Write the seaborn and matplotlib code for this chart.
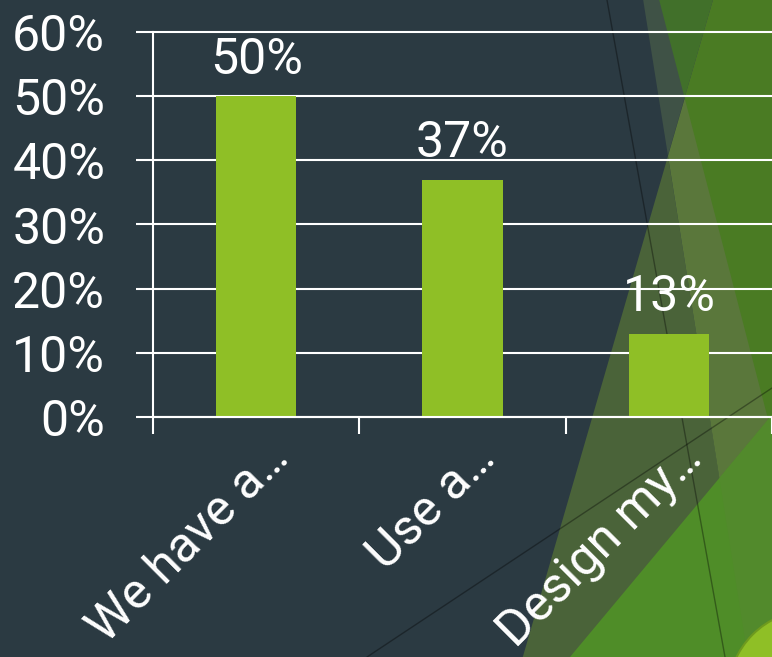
import matplotlib
matplotlib.use("Agg")
import matplotlib.pyplot as plt
import matplotlib.patches as mpatches
from matplotlib.transforms import ScaledTranslation
from matplotlib.ticker import PercentFormatter, FixedLocator
import seaborn as sns
import pandas as pd

# Survey answers and their shares
categories = ["We have a…", "Use a…", "Design my…"]
shares = [0.50, 0.37, 0.13]
y_ticks = [0.0, 0.1, 0.2, 0.3, 0.4, 0.5, 0.6]

BG = "#2B3A42"
BAR = "#8FBF26"
W, H = 772, 657

sns.set_style("white", {"axes.facecolor": "none", "figure.facecolor": BG})
plt.rcParams["font.family"] = ["Roboto", "DejaVu Sans"]

fig = plt.figure(figsize=(W / 100, H / 100), dpi=100)
fig.patch.set_facecolor(BG)

# ---- decorative background, in pixel coordinates ----
deco = fig.add_axes([0, 0, 1, 1], zorder=0)
deco.set_xlim(0, W)
deco.set_ylim(H, 0)
deco.axis("off")
deco.set_facecolor(BG)


def line_x(x0, slope, y):
    return x0 + slope * y


def half_plane(x0, slope, right=True):
    ya, yb = -20, H + 20
    xa, xb = line_x(x0, slope, ya), line_x(x0, slope, yb)
    if right:
        pts = [(xa, ya), (W + 200, ya), (W + 200, yb), (xb, yb)]
    else:
        pts = [(-200, ya), (xa, ya), (xb, yb), (-200, yb)]
    return pts


A = (643, 0.16)
B = (713, -0.29)
C = (659, 0.26)


def clipped(poly_pts, clip_pts, color):
    clip = mpatches.Polygon(clip_pts, closed=True, transform=deco.transData,
                            facecolor="none", edgecolor="none")
    p = mpatches.Polygon(poly_pts, closed=True, facecolor=color,
                         edgecolor="none")
    deco.add_patch(p)
    p.set_clip_path(clip)


clipped(half_plane(*A, True), half_plane(*B, False), "#3F5246")
clipped(half_plane(*B, True), half_plane(*A, False), "#4A6339")
clipped(half_plane(*A, True), half_plane(*B, True), "#5A773B")
clipped(half_plane(*C, True), half_plane(*B, False), "#41702A")
clipped(half_plane(*C, True), half_plane(*B, True), "#4A7B23")

tri = [(570, H), (W, 415), (W, H)]
deco.add_patch(mpatches.Polygon(tri, closed=True, facecolor="#4F8D28",
                                edgecolor="none"))
clipped(tri, half_plane(*A, True), "#528A2C")

deco.plot([607, 725], [0, H], color="black", alpha=0.35, lw=1.0)
deco.plot([367, W], [H, 388], color="black", alpha=0.35, lw=1.0)
deco.add_patch(mpatches.Circle((812, 694), 84, facecolor=BAR,
                               edgecolor="#6E9A1E", lw=1.5))

# ---- chart ----
ax = fig.add_axes([153 / W, 1 - 417 / H, (W - 153) / W, (417 - 32) / H],
                  zorder=1)
ax.set_facecolor("none")

df = pd.DataFrame({"category": categories, "share": shares})
sns.barplot(data=df, x="category", y="share", color=BAR, width=0.39,
            saturation=1, ax=ax, zorder=3, edgecolor="none", linewidth=0)

ax.set_xlim(-0.5, len(categories) - 0.5)
ax.set_ylim(0, 0.6)
ax.set_xlabel("")
ax.set_ylabel("")

FS = 36
ax.set_yticks(y_ticks)
ax.yaxis.set_major_formatter(PercentFormatter(xmax=1, decimals=0))
ax.tick_params(axis="y", which="major", length=12.5, width=1.5,
               color="white", labelcolor="white", labelsize=FS, pad=22,
               direction="out", left=True)

ax.yaxis.grid(True, color="white", lw=1.5)
ax.set_axisbelow(True)
for gl in ax.get_ygridlines():
    gl.set_clip_on(False)
    gl.set_zorder(1)

# category boundaries carry the tick marks, centres carry the labels
ax.set_xticks(range(len(categories)))
ax.xaxis.set_minor_locator(FixedLocator([i - 0.5 for i in range(len(categories) + 1)]))
ax.tick_params(axis="x", which="major", length=0, pad=31,
               labelcolor="white", labelsize=FS, bottom=True)
ax.tick_params(axis="x", which="minor", length=12.5, width=1.5,
               color="white", direction="out", bottom=True)
offset = ScaledTranslation(0.35, 0, fig.dpi_scale_trans)
for lab in ax.get_xticklabels():
    lab.set_rotation(45)
    lab.set_rotation_mode("anchor")
    lab.set_ha("right")
    lab.set_va("baseline")
    lab.set_transform(lab.get_transform() + offset)

for side in ("top", "right"):
    ax.spines[side].set_visible(False)
for side in ("left", "bottom"):
    ax.spines[side].set_color("white")
    ax.spines[side].set_linewidth(1.5)
    ax.spines[side].set_zorder(4)

for i, v in enumerate(shares):
    ax.annotate(f"{v:.0%}", (i, v), xytext=(0, 16), textcoords="offset points",
                ha="center", va="baseline", fontsize=FS, color="white",
                zorder=5)

fig.savefig("out.png", dpi=100, facecolor=BG)
